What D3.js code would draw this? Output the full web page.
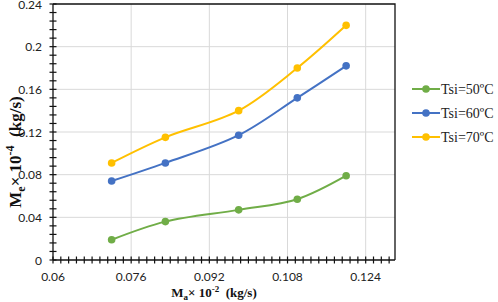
<!DOCTYPE html>
<html>
<head>
<meta charset="utf-8">
<script src="https://cdn.jsdelivr.net/npm/d3@7"></script>
<style>
  body { margin: 0; background: #fff; }
  svg { display: block; }
  .tick-label { font-family: Lato, "Open Sans", sans-serif; font-size: 12px; fill: #222; }
  .axis-title { font-family: "Liberation Serif", "Times New Roman", serif; font-weight: bold; fill: #111; }
  .legend-text { font-family: "Liberation Serif", "Times New Roman", serif; font-size: 14px; fill: #222; }
</style>
</head>
<body>
<div id="chart"></div>
<script>
// values
const massFlowAir = [0.072, 0.083, 0.098, 0.11, 0.12];
const tsi50 = [0.019, 0.036, 0.047, 0.057, 0.079];
const tsi60 = [0.074, 0.091, 0.117, 0.152, 0.182];
const tsi70 = [0.091, 0.115, 0.14, 0.18, 0.22];
const seriesNames = ['Tsi=50ºC', 'Tsi=60ºC', 'Tsi=70ºC'];
const seriesColors = ['#70ad47', '#4472c4', '#ffc000'];
const xTicks = [0.06, 0.076, 0.092, 0.108, 0.124];
const yTicks = [0, 0.04, 0.08, 0.12, 0.16, 0.2, 0.24];

const width = 498, height = 302;
const plot = { left: 53, right: 395, top: 4, bottom: 260 };

let svg = d3.select('#chart').append('svg')
    .attr('width', width)
    .attr('height', height);

let x = d3.scaleLinear().domain([0.06, 0.13]).range([plot.left, plot.right]);
let y = d3.scaleLinear().domain([0, 0.24]).range([plot.bottom, plot.top]);

// gridlines
svg.append('g').selectAll('line')
    .data(xTicks.slice(1))
    .enter().append('line')
    .attr('x1', d => x(d)).attr('x2', d => x(d))
    .attr('y1', plot.top).attr('y2', plot.bottom)
    .attr('stroke', '#d9d9d9').attr('stroke-width', 1);

svg.append('g').selectAll('line')
    .data(yTicks.slice(1, -1))
    .enter().append('line')
    .attr('x1', plot.left).attr('x2', plot.right)
    .attr('y1', d => y(d)).attr('y2', d => y(d))
    .attr('stroke', '#d9d9d9').attr('stroke-width', 1);

// frame (top and right)
svg.append('path')
    .attr('d', `M${plot.left},${y(0.24)}H${x(0.13)}V${plot.bottom}`)
    .attr('fill', 'none').attr('stroke', '#111').attr('stroke-width', 1.3);

// minor ticks
let yMinor = d3.range(0, 0.2401, 0.008);
let xMinor = d3.range(0.06, 0.1301, 0.0016).filter(d => d <= 0.1295);

// y axis, cross ticks
let yAxis = svg.append('g');
yAxis.append('line')
    .attr('x1', plot.left).attr('x2', plot.left)
    .attr('y1', plot.top).attr('y2', plot.bottom)
    .attr('stroke', '#111').attr('stroke-width', 1.3);
yAxis.selectAll('.ytick')
    .data(yMinor)
    .enter().append('line')
    .attr('x1', plot.left - 3.5).attr('x2', plot.left + 3.5)
    .attr('y1', d => y(d)).attr('y2', d => y(d))
    .attr('stroke', '#111').attr('stroke-width', 1.2);
yAxis.selectAll('text')
    .data(yTicks)
    .enter().append('text')
    .attr('class', 'tick-label')
    .attr('x', plot.left - 11)
    .attr('y', d => y(d) + 4.5)
    .attr('text-anchor', 'end')
    .text(d => d3.format('')(+d.toFixed(2)));

// x axis, cross ticks
let xAxis = svg.append('g');
xAxis.append('line')
    .attr('x1', plot.left).attr('x2', plot.right)
    .attr('y1', plot.bottom).attr('y2', plot.bottom)
    .attr('stroke', '#111').attr('stroke-width', 1.3);
xAxis.selectAll('.xtick')
    .data(xMinor)
    .enter().append('line')
    .attr('x1', d => x(d)).attr('x2', d => x(d))
    .attr('y1', plot.bottom - 3.5).attr('y2', plot.bottom + 3.5)
    .attr('stroke', '#111').attr('stroke-width', 1.2);
xAxis.selectAll('text')
    .data(xTicks)
    .enter().append('text')
    .attr('class', 'tick-label')
    .attr('x', d => x(d))
    .attr('y', plot.bottom + 21)
    .attr('text-anchor', 'middle')
    .text(d => d3.format('')(+d.toFixed(3)));

// axis titles
let xTitle = svg.append('text')
    .attr('class', 'axis-title')
    .attr('x', 214).attr('y', 297)
    .attr('text-anchor', 'middle')
    .style('font-size', '13px');
xTitle.append('tspan').text('M');
xTitle.append('tspan').attr('dy', 3).style('font-size', '9px').text('a');
xTitle.append('tspan').attr('dy', -3).text('× 10');
xTitle.append('tspan').attr('dy', -5).style('font-size', '9px').text('-2');
xTitle.append('tspan').attr('dy', 5).text('\u00a0 (kg/s)');

let yTitle = svg.append('text')
    .attr('class', 'axis-title')
    .attr('transform', 'translate(21,152) rotate(-90)')
    .attr('text-anchor', 'middle')
    .style('font-size', '17px');
yTitle.append('tspan').text('M');
yTitle.append('tspan').attr('dy', 4).style('font-size', '12px').text('e');
yTitle.append('tspan').attr('dy', -4).text('× 10');
yTitle.append('tspan').attr('dy', -7).style('font-size', '12px').text('-4');
yTitle.append('tspan').attr('dy', 7).text('\u00a0 (kg/s)');

// series
let seriesData = [tsi50, tsi60, tsi70].map((vals, i) => ({
    name: seriesNames[i],
    color: seriesColors[i],
    points: vals.map((v, j) => [massFlowAir[j], v])
}));

let line = d3.line()
    .x(d => x(d[0]))
    .y(d => y(d[1]))
    .curve(d3.curveCatmullRom.alpha(0.5));

let series = svg.append('g').selectAll('g')
    .data(seriesData)
    .enter().append('g');

series.append('path')
    .attr('d', d => line(d.points))
    .attr('fill', 'none')
    .attr('stroke', d => d.color)
    .attr('stroke-width', 2);

series.selectAll('circle')
    .data(d => d.points.map(p => ({ p: p, color: d.color })))
    .enter().append('circle')
    .attr('cx', d => x(d.p[0]))
    .attr('cy', d => y(d.p[1]))
    .attr('r', 3.8)
    .attr('fill', d => d.color);

// legend
let legend = svg.append('g').selectAll('g')
    .data(seriesData)
    .enter().append('g')
    .attr('transform', (d, i) => `translate(412,${89 + i * 24})`);

legend.append('line')
    .attr('x1', 0).attr('x2', 28)
    .attr('stroke', d => d.color).attr('stroke-width', 2);
legend.append('circle')
    .attr('cx', 14).attr('r', 3.8)
    .attr('fill', d => d.color);
legend.append('text')
    .attr('class', 'legend-text')
    .attr('x', 29).attr('y', 5)
    .text(d => d.name);
</script>
</body>
</html>
